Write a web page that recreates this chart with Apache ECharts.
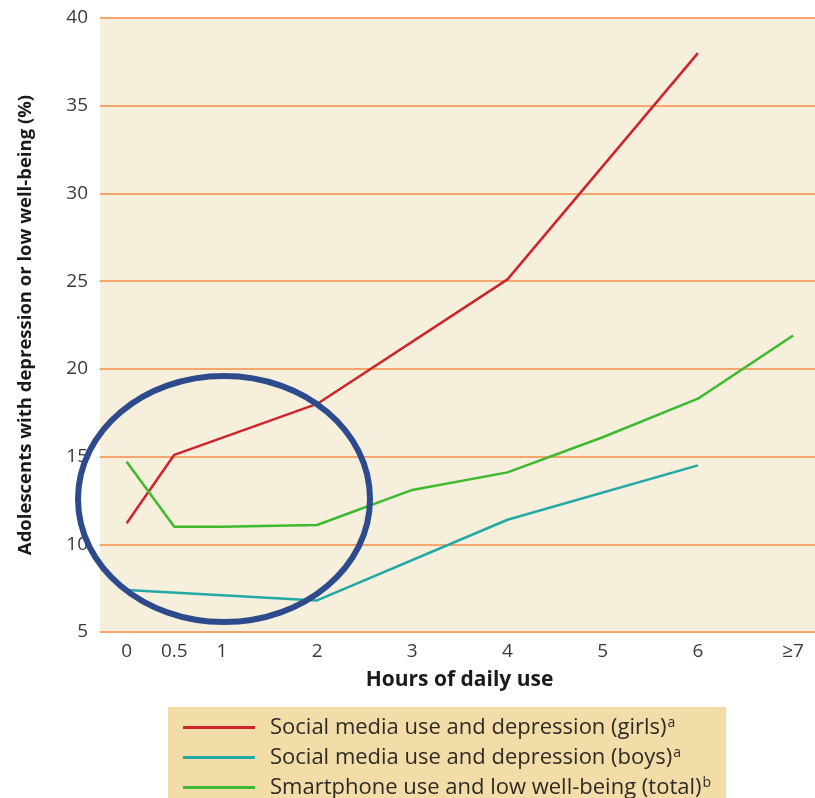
<!DOCTYPE html>
<html>
<head>
<meta charset="utf-8">
<script src="https://cdn.jsdelivr.net/npm/echarts@6/dist/echarts.min.js"></script>
<style>
  html, body { margin: 0; padding: 0; background: #fff; }
  #main { width: 815px; height: 798px; }
</style>
</head>
<body>
<div id="main"></div>
<script>
// hours of daily use (7 = "7 or more")
var hourTicks = [0, 0.5, 1, 2, 3, 4, 5, 6, 7];

// values, [hours, percent]
var girlsDepression = [[0, 11.2], [0.5, 15.1], [2, 18.0], [4, 25.1], [6, 38.0]];
var boysDepression = [[0, 7.4], [2, 6.8], [4, 11.4], [6, 14.5]];
var smartphoneWellBeing = [[0, 14.7], [0.5, 11.0], [1, 11.0], [2, 11.1], [3, 13.1],
    [4, 14.1], [5, 16.1], [6, 18.3], [7, 21.9]];

var seriesNames = [
    'Social media use and depression (girls)',
    'Social media use and depression (boys)',
    'Smartphone use and low well-being (total)'
];
var seriesNotes = ['a', 'a', 'b'];
var seriesColors = ['#d0242c', '#22a9a6', '#3dba2f'];

var myChart = echarts.init(document.getElementById('main'));

function lineSeries(i, data) {
    return {
        name: seriesNames[i],
        type: 'line',
        data: data,
        symbol: 'none',
        silent: true,
        lineStyle: {color: seriesColors[i], width: 2.5},
        itemStyle: {color: seriesColors[i]}
    };
}

var option = {
    backgroundColor: '#ffffff',
    animation: false,
    textStyle: {fontFamily: 'Open Sans'},
    grid: {
        left: 100, right: 0, top: 18, bottom: 166,
        show: true,
        backgroundColor: '#f5efdc',
        borderWidth: 0
    },
    xAxis: {
        type: 'value',
        min: -0.28,
        max: 7.23,
        name: 'Hours of daily use',
        nameLocation: 'middle',
        nameGap: 38,
        nameTextStyle: {fontSize: 21, fontWeight: 'bold', color: '#1a1a1a', padding: [0, 0, 0, 4]},
        axisLine: {show: false},
        axisTick: {show: false},
        splitLine: {show: false},
        axisLabel: {
            customValues: hourTicks,
            margin: 10,
            fontSize: 19,
            color: '#3a3a3a',
            formatter: function (v) {
                return v === 7 ? '≥7' : String(v);
            }
        }
    },
    yAxis: {
        type: 'value',
        min: 5,
        max: 40,
        interval: 5,
        name: 'Adolescents with depression or low well-being (%)',
        nameLocation: 'middle',
        nameGap: 65,
        nameTextStyle: {fontSize: 18.5, fontWeight: 'bold', color: '#1a1a1a'},
        axisLine: {show: false},
        axisTick: {show: false},
        axisLabel: {fontSize: 19, color: '#3a3a3a', margin: 12},
        splitLine: {lineStyle: {color: '#f6a56e', width: 2}}
    },
    legend: {
        orient: 'vertical',
        left: 168,
        top: 707,
        height: 130,
        padding: [9, 15, 12, 15],
        backgroundColor: '#f2dda8',
        icon: 'rect',
        itemWidth: 72,
        itemHeight: 3,
        itemGap: 6,
        data: seriesNames.map(function (n, i) {
            return {name: n, itemStyle: {color: seriesColors[i]}};
        }),
        formatter: function (name) {
            var i = seriesNames.indexOf(name);
            return name + '{sup|' + seriesNotes[i] + '}';
        },
        textStyle: {
            fontSize: 22,
            lineHeight: 23,
            color: '#2e2a24',
            padding: [0, 0, 0, 10],
            rich: {
                sup: {fontSize: 14, lineHeight: 23, verticalAlign: 'top', padding: [0, 0, 10, 1], color: '#2e2a24'}
            }
        }
    },
    series: [
        lineSeries(0, girlsDepression),
        lineSeries(1, boysDepression),
        lineSeries(2, smartphoneWellBeing)
    ],
    graphic: [{
        type: 'ellipse',
        shape: {cx: 224, cy: 499, rx: 146, ry: 123},
        style: {fill: 'none', stroke: '#2c4a8c', lineWidth: 6},
        z: 100
    }]
};
myChart.setOption(option);
</script>
</body>
</html>
